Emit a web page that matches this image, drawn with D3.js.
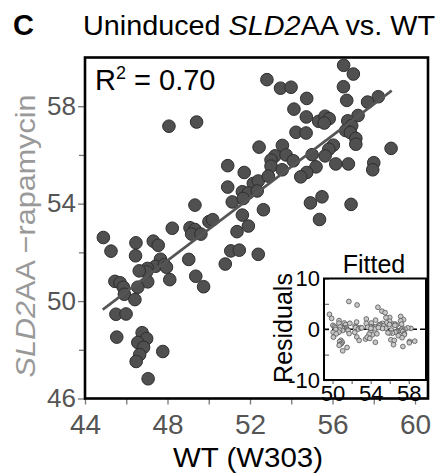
<!DOCTYPE html>
<html lang="en">
<head>
<meta charset="UTF-8" />
<script src="https://cdn.jsdelivr.net/npm/d3@7"></script>
<title>Uninduced SLD2AA vs. WT</title>
<style>
  body { margin: 0; background: #fff; }
  svg { display: block; font-family: "Liberation Sans", Arial, sans-serif; }
</style>
</head>
<body>
<svg width="447" height="476"></svg>
<script>
// values
const wt = [44.89, 45.26, 46.47, 46.45, 47.31, 47.55, 48.23, 49.09, 49.33, 49.17, 49.62, 50.01, 50.19, 51.63, 51.92, 51.37,
  47.66, 47.42, 47.85, 47.95, 47.03, 46.99, 46.63, 49.03, 48.11, 49.37, 49.75, 50.80, 51.07, 51.48, 52.40, 47.04,
  46.56, 45.45, 45.70, 45.86, 45.91, 46.42, 45.50, 45.99, 45.54, 46.77, 46.99, 46.56, 46.84, 46.65, 46.48, 47.77, 47.06,
  48.07, 49.41, 52.44, 50.92, 51.72, 50.92, 52.16, 52.40, 51.63, 51.92, 52.35, 51.14, 51.67, 52.65, 49.33,
  56.54, 57.01, 52.82, 53.48, 53.99, 56.53, 54.75, 56.69, 58.22, 57.70, 54.13, 54.73, 57.24, 55.33, 55.64, 55.84,
  55.60, 56.74, 56.93, 56.64, 56.87, 57.13, 57.13, 54.23, 54.72, 58.84, 53.57, 53.21, 53.02, 53.02, 53.75, 54.10,
  53.56, 52.89, 55.01, 56.04, 55.82, 55.64, 55.20, 54.75, 54.46, 56.16, 56.77, 58.00, 57.95, 54.93, 55.49, 56.90, 55.37];
const sld = [52.61, 52.05, 52.39, 51.86, 52.46, 52.29, 52.99, 53.01, 52.94, 52.75, 52.75, 53.26, 53.34, 53.53, 53.08, 52.85,
  51.72, 51.43, 51.49, 51.39, 51.34, 51.20, 51.24, 51.71, 50.88, 51.02, 50.59, 51.52, 52.06, 52.09, 51.92, 50.79,
  50.57, 50.81, 50.75, 50.57, 50.28, 50.06, 49.46, 49.47, 48.52, 48.70, 48.46, 48.30, 48.10, 47.80, 47.52, 47.93, 46.81,
  57.18, 57.35, 56.32, 55.56, 55.28, 54.68, 54.83, 54.93, 54.49, 54.44, 54.52, 54.07, 54.21, 53.75, 53.94,
  59.68, 59.32, 59.09, 58.74, 58.78, 58.80, 58.32, 58.24, 58.39, 58.17, 57.88, 57.56, 57.62, 57.38, 57.59, 57.49,
  57.31, 57.40, 57.20, 57.00, 56.92, 56.68, 56.44, 56.93, 56.90, 56.27, 56.39, 55.96, 55.79, 55.54, 56.00, 55.76,
  55.39, 55.13, 56.01, 56.40, 56.23, 55.96, 55.51, 55.28, 55.10, 55.63, 55.63, 55.68, 55.39, 54.03, 54.28, 53.97, 53.35];

// regression line end points
const fitX = [44.86, 58.87];
const fitY = [49.65, 58.64];
const r2 = "0.70";

const xTicks = [44, 48, 52, 56, 60], xMinor = [46, 50, 54, 58];
const yTicks = [46, 50, 54, 58], yMinor = [48, 52, 56];
const inXTicks = [50, 54, 58], inXMinor = [52, 56];
const inYTicks = [-10, 0, 10], inYMinor = [-5, 5];

const pts = wt.map((v, i) => ({ wt: v, sld: sld[i] }));
const slope = (fitY[1] - fitY[0]) / (fitX[1] - fitX[0]);
const fitted = v => fitY[0] + slope * (v - fitX[0]);
const resid = pts.map(d => ({ fit: fitted(d.wt), res: d.sld - fitted(d.wt) }));

const svg = d3.select("svg");
const x = d3.scaleLinear().domain([44, 60.63]).range([85, 428]);
const y = d3.scaleLinear().domain([46, 60]).range([398.5, 57.5]);

// titles
svg.append("text").attr("x", 13).attr("y", 35)
  .attr("font-size", 29).attr("font-weight", "bold").text("C");
const title = svg.append("text").attr("x", 83).attr("y", 35)
  .attr("font-size", 28).attr("textLength", 352).attr("lengthAdjust", "spacingAndGlyphs");
title.append("tspan").text("Uninduced ");
title.append("tspan").attr("font-style", "italic").text("SLD2");
title.append("tspan").text("AA vs. WT");

// axes
function styleAxis(g, size, color) {
  g.select(".domain").remove();
  g.selectAll(".tick line").attr("stroke", "#777").attr("stroke-width", 1.3);
  g.selectAll(".tick text").attr("font-size", size).attr("fill", color)
    .attr("font-family", "Liberation Sans, Arial, sans-serif");
}
svg.append("g").attr("transform", `translate(${x(44)},0)`)
  .call(d3.axisLeft(y).tickValues(yTicks).tickSize(7).tickPadding(2))
  .call(g => styleAxis(g, 26, "#555"));
svg.append("g").attr("transform", `translate(${x(44)},0)`)
  .call(d3.axisLeft(y).tickValues(yMinor).tickSize(6).tickFormat(""))
  .call(g => styleAxis(g, 26, "#555"));
svg.append("g").attr("transform", `translate(0,${y(46)})`)
  .call(d3.axisBottom(x).tickValues(xTicks).tickSize(6).tickPadding(10))
  .call(g => styleAxis(g, 28, "#555"));
svg.append("g").attr("transform", `translate(0,${y(46)})`)
  .call(d3.axisBottom(x).tickValues(xMinor).tickSize(6).tickFormat(""))
  .call(g => styleAxis(g, 28, "#555"));

svg.append("text").attr("x", 248).attr("y", 467).attr("text-anchor", "middle")
  .attr("font-size", 28).attr("textLength", 150).attr("lengthAdjust", "spacingAndGlyphs")
  .text("WT (W303)");
const ylab = svg.append("text").attr("transform", "translate(35,236) rotate(-90)")
  .attr("text-anchor", "middle").attr("font-size", 28).attr("fill", "#999")
  .attr("textLength", 283).attr("lengthAdjust", "spacingAndGlyphs");
ylab.append("tspan").attr("font-style", "italic").text("SLD2");
ylab.append("tspan").text("AA \u2212rapamycin");

// frame
svg.append("rect").attr("x", x(44)).attr("y", y(60))
  .attr("width", x(60.63) - x(44)).attr("height", y(46) - y(60))
  .attr("fill", "none").attr("stroke", "#000").attr("stroke-width", 2.6);

// points and fit
svg.append("g").selectAll("circle").data(pts).join("circle")
  .attr("cx", d => x(d.wt)).attr("cy", d => y(d.sld)).attr("r", 6.3)
  .attr("fill", "#505050").attr("stroke", "#2e2e2e").attr("stroke-width", 1);
svg.append("line")
  .attr("x1", x(fitX[0])).attr("y1", y(fitY[0]))
  .attr("x2", x(fitX[1])).attr("y2", y(fitY[1]))
  .attr("stroke", "#555").attr("stroke-width", 2.6);

const r2t = svg.append("text").attr("x", 95).attr("y", 90).attr("font-size", 29);
r2t.append("tspan").text("R");
r2t.append("tspan").attr("font-size", 18).attr("dy", -11).text("2");
r2t.append("tspan").attr("dy", 11).text(" = " + r2);

// inset: residuals vs fitted
const ix = d3.scaleLinear().domain([49.1, 59.8]).range([324, 426]);
const iy = d3.scaleLinear().domain([-10, 10]).range([380, 278.5]);
svg.append("rect").attr("x", ix(49.1)).attr("y", iy(10))
  .attr("width", ix(59.8) - ix(49.1)).attr("height", iy(-10) - iy(10))
  .attr("fill", "#fff");
svg.append("g").attr("transform", `translate(${ix(49.1)},0)`)
  .call(d3.axisLeft(iy).tickValues(inYTicks).tickSize(-5).tickPadding(4).tickFormat(d => String(d)))
  .call(g => styleAxis(g, 22, "#000"));
svg.append("g").attr("transform", `translate(${ix(49.1)},0)`)
  .call(d3.axisLeft(iy).tickValues(inYMinor).tickSize(-5).tickFormat(""))
  .call(g => styleAxis(g, 22, "#000"));
svg.append("g").attr("transform", `translate(0,${iy(-10)})`)
  .call(d3.axisBottom(ix).tickValues(inXTicks).tickSize(4).tickPadding(1))
  .call(g => styleAxis(g, 22, "#000"));
svg.append("g").attr("transform", `translate(0,${iy(-10)})`)
  .call(d3.axisBottom(ix).tickValues(inXMinor).tickSize(4).tickFormat(""))
  .call(g => styleAxis(g, 22, "#000"));

svg.append("line").attr("x1", ix(49.1)).attr("x2", ix(59.8))
  .attr("y1", iy(0)).attr("y2", iy(0))
  .attr("stroke", "#000").attr("stroke-width", 1.6).attr("stroke-dasharray", "5,3");
svg.append("g").selectAll("circle").data(resid).join("circle")
  .attr("cx", d => ix(d.fit)).attr("cy", d => iy(d.res)).attr("r", 2.4)
  .attr("fill", "#c8c8c8").attr("stroke", "#555").attr("stroke-width", 0.8);
svg.append("rect").attr("x", ix(49.1)).attr("y", iy(10))
  .attr("width", ix(59.8) - ix(49.1)).attr("height", iy(-10) - iy(10))
  .attr("fill", "none").attr("stroke", "#000").attr("stroke-width", 2);

svg.append("text").attr("x", 374).attr("y", 273).attr("text-anchor", "middle")
  .attr("font-size", 25).text("Fitted");
svg.append("text").attr("transform", "translate(292,328) rotate(-90)")
  .attr("text-anchor", "middle").attr("font-size", 25).text("Residuals");
</script>
</body>
</html>
